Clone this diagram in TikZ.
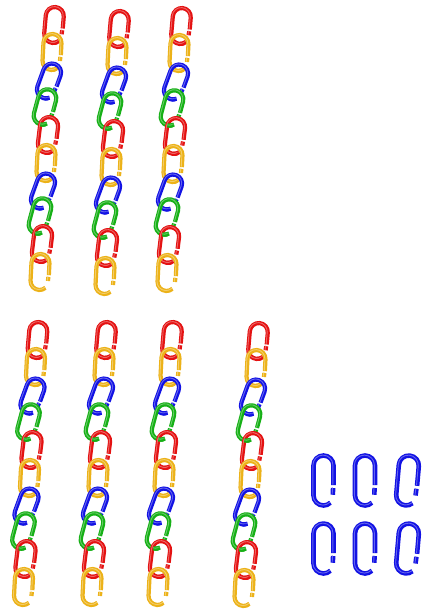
\documentclass[tikz,border=0pt]{standalone}
\definecolor{lred}{RGB}{228,18,18}
\definecolor{lyel}{RGB}{236,178,24}
\definecolor{lblu}{RGB}{18,18,228}
\definecolor{lgrn}{RGB}{22,176,22}
\newcommand\clinkpath[2]{(#1,0.3*#2) -- (#1,-#2) arc[start angle=0,end angle=-180,radius=#1] -- (-#1,#2) arc[start angle=180,end angle=46,radius=#1] (0.96*#1,0.5*#2) -- (0.93*#1,0.95*#2)}
\newcommand\clink[7]{%
  \begin{scope}[shift={(#1,#2)},rotate=#3]
    \draw[linkbody,line width=#7pt,color=#4] \clinkpath{#5}{#6};
    \draw[linkshine,color=#4!65!white,shift={(-0.6,-0.4)}] \clinkpath{#5}{#6};
  \end{scope}}
\newcommand\clinkfront[6]{%
  \begin{scope}[shift={(#1,#2)},rotate=#3]
    \draw[linkbody,line width=4.2pt,color=#4] (0,#6+#5) arc[start angle=90,end angle=56,radius=#5];
    \draw[linkshine,color=#4!65!white,shift={(-0.6,-0.4)}] (0,#6+#5) arc[start angle=90,end angle=56,radius=#5];
  \end{scope}}
\newcommand\linkchain[2]{%
  \foreach \dx/\dy/\rot/\col in {0/0/-5/lred,-2/27/-3/lyel,-5/56/-20/lblu,-9/82/-15/lgrn,-6/110/-7/lred,-8/138/-3/lyel,-11/166/-20/lblu,-14/191/-15/lgrn,-12/219/-7/lred,-14/247/-3/lyel}{%
    \clink{#1+\dx}{#2+\dy}{\rot}{\col}{9}{9}{4.2}}
  \foreach \dx/\dy/\rot/\col in {0/0/-5/lred,-2/27/-3/lyel,-5/56/-20/lblu,-9/82/-15/lgrn,-6/110/-7/lred,-8/138/-3/lyel,-11/166/-20/lblu,-14/191/-15/lgrn,-12/219/-7/lred}{%
    \clinkfront{#1+\dx}{#2+\dy}{\rot}{\col}{9}{9}}}
\begin{document}
\begin{tikzpicture}[x=1pt,y=-1pt,
  linkbody/.style={line cap=butt,line join=round},
  linkshine/.style={line width=0.9pt,line cap=butt,line join=round}]
\useasboundingbox[fill=white] (0,0) rectangle (432,609);
% top row
\linkchain{54}{25}
\linkchain{119}{29}
\linkchain{181}{26}
% bottom row
\linkchain{37.5}{340}
\linkchain{106}{340}
\linkchain{172}{340}
\linkchain{258}{341}
% loose links
\clink{323.5}{480.5}{0}{lblu}{10}{15}{4.6}
\clink{365}{480.5}{0}{lblu}{10}{15}{4.6}
\clink{407.5}{480.5}{-5}{lblu}{10}{15}{4.6}
\clink{323.5}{548.5}{0}{lblu}{10}{15}{4.6}
\clink{365}{548.5}{0}{lblu}{10}{15}{4.6}
\clink{407.5}{548.5}{-5}{lblu}{10}{15}{4.6}
\end{tikzpicture}
\end{document}
